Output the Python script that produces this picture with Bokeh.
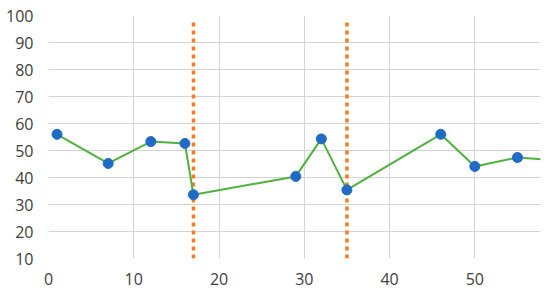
from bokeh.plotting import figure
from bokeh.models import Range1d, FixedTicker
from bokeh.embed import file_html
from bokeh.resources import INLINE

x_vals = [1, 7, 12, 16, 17, 29, 32, 35, 46, 50, 55, 60]
y_vals = [56.0, 45.2, 53.3, 52.6, 33.6, 40.4, 54.3, 35.4, 56.0, 44.1, 47.4, 46.3]
marker_x = [1, 7, 12, 16, 17, 29, 32, 35, 46, 50, 55]
marker_y = [56.0, 45.2, 53.3, 52.6, 33.6, 40.4, 54.3, 35.4, 56.0, 44.1, 47.4]
vline_x = [17, 35]
vline_top = [98, 98]
vline_bottom = [10, 10]
x_ticks = [0, 10, 20, 30, 40, 50]
y_ticks = [10, 20, 30, 40, 50, 60, 70, 80, 90, 100]

p = figure(width=550, height=294, output_backend="svg", toolbar_location=None,
           x_range=Range1d(0, 57.7), y_range=Range1d(10, 100),
           min_border_left=48, min_border_top=15, min_border_right=10, min_border_bottom=36)
p.outline_line_color = None
p.background_fill_color = "white"
p.border_fill_color = "white"

for ax in (p.xaxis[0], p.yaxis[0]):
    ax.axis_line_color = None
    ax.major_tick_line_color = None
    ax.minor_tick_line_color = None
    ax.major_tick_in = 0
    ax.major_tick_out = 0
    ax.minor_tick_in = 0
    ax.minor_tick_out = 0
    ax.major_label_text_font = "Open Sans"
    ax.major_label_text_font_size = "16px"
    ax.major_label_text_color = "#404040"
p.xaxis.ticker = FixedTicker(ticks=x_ticks)
p.yaxis.ticker = FixedTicker(ticks=y_ticks)
p.xaxis.major_label_standoff = 14
p.yaxis.major_label_standoff = 15

p.xgrid.ticker = FixedTicker(ticks=x_ticks)
p.ygrid.ticker = FixedTicker(ticks=y_ticks)
p.grid.grid_line_color = "#D4D4D4"
p.grid.grid_line_width = 1

p.segment(x0=vline_x, x1=vline_x, y0=vline_bottom, y1=vline_top,
          line_color="#FF7A1A", line_width=3.5, line_dash="4 4")
p.line(x_vals, y_vals, line_color="#4DB33D", line_width=2)
p.scatter(marker_x, marker_y, size=10, fill_color="#1F6BC6", line_color="#1F6BC6")

open("out.html", "w").write(file_html(p, INLINE))
